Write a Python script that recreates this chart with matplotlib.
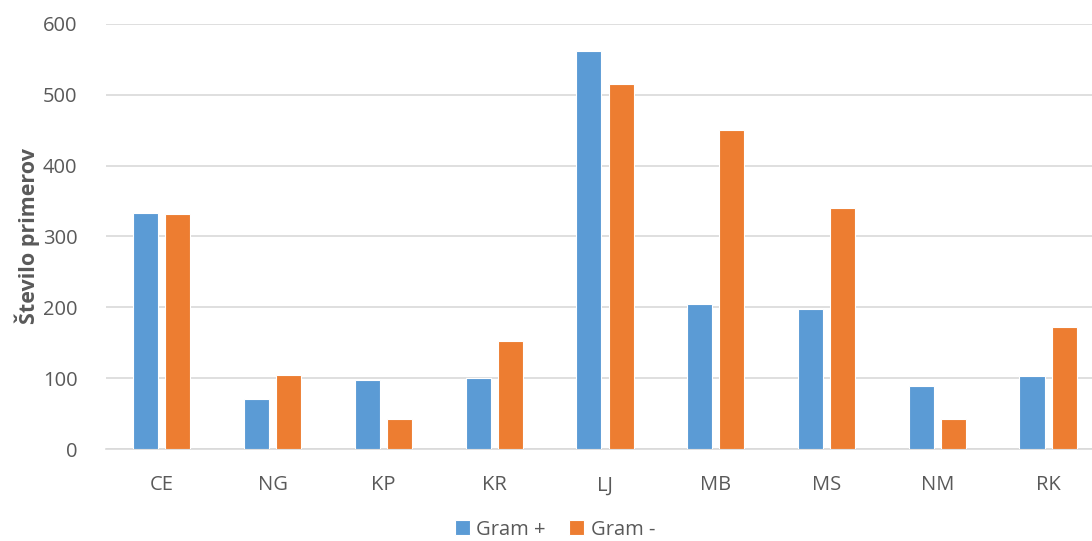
import matplotlib.pyplot as plt
import numpy as np

plt.rcParams['font.family'] = ['Open Sans', 'DejaVu Sans']

regije = ['CE', 'NG', 'KP', 'KR', 'LJ', 'MB', 'MS', 'NM', 'RK']
gram_poz = [333, 71, 97, 100, 562, 204, 197, 89, 103]
gram_neg = [331, 104, 42, 153, 515, 450, 340, 42, 172]
y_ticks = [0, 100, 200, 300, 400, 500, 600]

modra = '#5B9BD5'
oranzna = '#ED7D31'
siva = '#595959'

fig = plt.figure(figsize=(10.92, 5.41), dpi=100)
# the plot area runs slightly past the right edge of the figure
ax = fig.add_axes([0.0975, 0.170, 0.913, 0.786])

x = np.arange(len(regije))
w = 0.226
ax.bar(x - 0.145, gram_poz, width=w, color=modra, edgecolor='white',
       linewidth=0.8, label='Gram +', zorder=3)
ax.bar(x + 0.145, gram_neg, width=w, color=oranzna, edgecolor='white',
       linewidth=0.8, label='Gram -', zorder=3)

ax.set_xlim(-0.5, len(regije) - 0.5)
ax.set_ylim(0, 600)
ax.set_yticks(y_ticks)
ax.set_xticks(x)
ax.set_xticklabels(regije)
ax.grid(axis='y', color='#D9D9D9', linewidth=1.2, zorder=0)

for s in ['top', 'right', 'left']:
    ax.spines[s].set_visible(False)
ax.spines['bottom'].set_color('#D9D9D9')
ax.spines['bottom'].set_linewidth(1.2)

ax.tick_params(axis='both', length=0, labelsize=14.5, labelcolor=siva)
ax.tick_params(axis='y', pad=21)
ax.tick_params(axis='x', pad=19)

ax.set_ylabel('Število primerov', fontsize=15.5, fontweight='bold',
              color=siva, labelpad=2)

fig.legend(loc='lower center', bbox_to_anchor=(0.508, -0.031), ncol=2,
           frameon=False, fontsize=14.5, labelcolor=siva, handlelength=0.75,
           handleheight=0.75, handletextpad=0.3, columnspacing=1.2)

fig.savefig('out.png', dpi=100)
